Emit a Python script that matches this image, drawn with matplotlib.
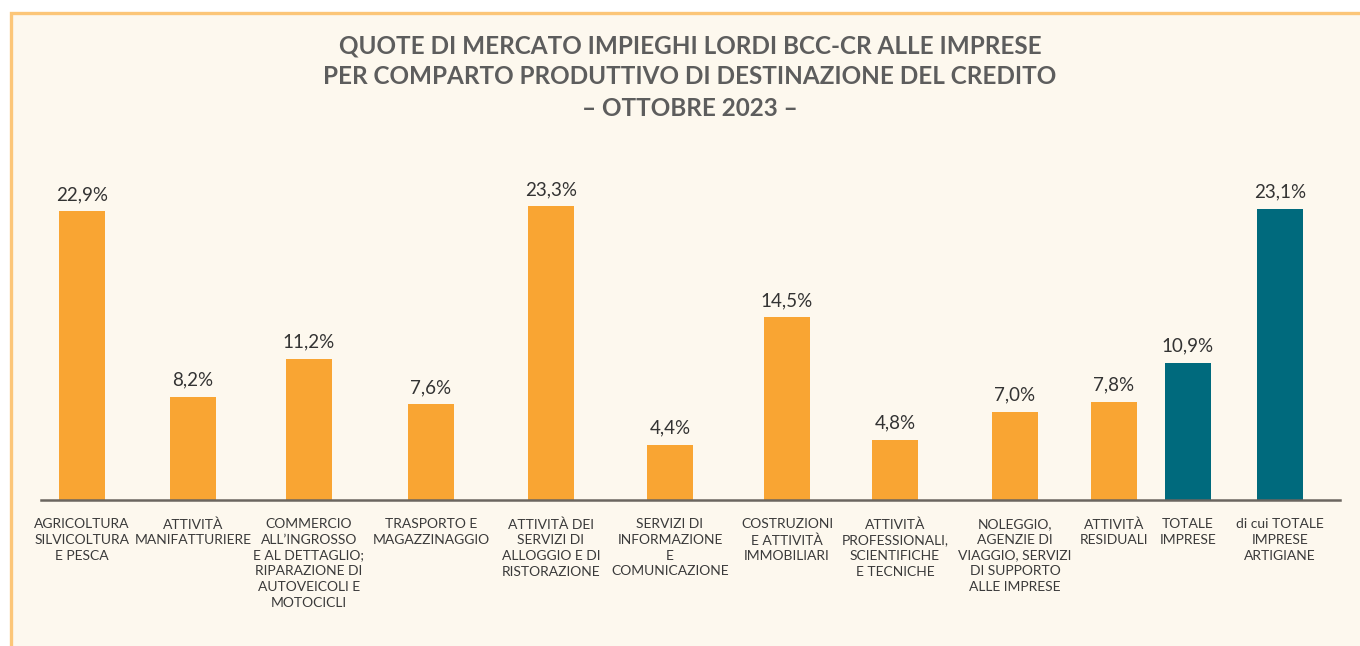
import matplotlib
matplotlib.use("Agg")
import matplotlib.pyplot as plt
from matplotlib.patches import Rectangle
from matplotlib.transforms import blended_transform_factory, offset_copy

plt.rcParams['font.family'] = ['Lato', 'DejaVu Sans']

# ---- data ----
categories = [
    "AGRICOLTURA\nSILVICOLTURA\nE PESCA",
    "ATTIVITÀ\nMANIFATTURIERE",
    "COMMERCIO\nALL’INGROSSO\nE AL DETTAGLIO;\nRIPARAZIONE DI\nAUTOVEICOLI E\nMOTOCICLI",
    "TRASPORTO E\nMAGAZZINAGGIO",
    "ATTIVITÀ DEI\nSERVIZI DI\nALLOGGIO E DI\nRISTORAZIONE",
    "SERVIZI DI\nINFORMAZIONE\nE\nCOMUNICAZIONE",
    "COSTRUZIONI\nE ATTIVITÀ\nIMMOBILIARI",
    "ATTIVITÀ\nPROFESSIONALI,\nSCIENTIFICHE\nE TECNICHE",
    "NOLEGGIO,\nAGENZIE DI\nVIAGGIO, SERVIZI\nDI SUPPORTO\nALLE IMPRESE",
    "ATTIVITÀ\nRESIDUALI",
    "TOTALE\nIMPRESE",
    "di cui TOTALE\nIMPRESE\nARTIGIANE",
]
values = [22.9, 8.2, 11.2, 7.6, 23.3, 4.4, 14.5, 4.8, 7.0, 7.8, 10.9, 23.1]
is_total = [False] * 10 + [True, True]
title_lines = [
    "QUOTE DI MERCATO IMPIEGHI LORDI BCC-CR ALLE IMPRESE",
    "PER COMPARTO PRODUTTIVO DI DESTINAZIONE DEL CREDITO",
    "– OTTOBRE 2023 –",
]

# ---- layout (bar centre positions, pixel-like units) ----
x_pos = [82, 193, 309, 431, 551, 670, 787, 895, 1015, 1114, 1188, 1280]
bar_w = 46

ORANGE = "#F9A533"
TEAL = "#006A7D"
BG = "#FDF8EE"
BORDER = "#FCC678"

W, H = 1360, 646
fig = plt.figure(figsize=(W / 100, H / 100), dpi=100, facecolor="white")

# background panel with top/left border
fig.patches.append(Rectangle((10.5 / W, -0.1), 1.2, 1.1 - 12.5 / H,
                             transform=fig.transFigure, facecolor=BG,
                             edgecolor=BORDER, linewidth=2.4, zorder=-5))

ax_left, ax_right = 41, 1340
base_y = 500
top_y = 150
ax = fig.add_axes([ax_left / W, (H - base_y) / H, (ax_right - ax_left) / W,
                   (base_y - top_y) / H])
ax.set_zorder(2)
ax.set_facecolor("none")
ax.set_xlim(ax_left, ax_right)
ax.set_ylim(0, (base_y - top_y) / 12.6)

colors = [TEAL if t else ORANGE for t in is_total]
bars = ax.bar(x_pos, values, width=bar_w, color=colors, zorder=2)

for xp, v in zip(x_pos, values):
    ax.annotate(f"{v:.1f}%".replace(".", ","), (xp, v), xytext=(0, 6),
                textcoords="offset points", ha="center", va="bottom",
                fontsize=13.5, color="#333333")

for s in ["top", "right", "left"]:
    ax.spines[s].set_visible(False)
ax.spines["bottom"].set_color("#6b6660")
ax.spines["bottom"].set_linewidth(1.8)
ax.set_yticks([])
ax.set_xticks([])

trans = blended_transform_factory(ax.transData, ax.transAxes)
for xp, lab in zip(x_pos, categories):
    ax.text(xp, 0, lab, transform=offset_copy(trans, fig=fig, x=0, y=-13, units="points"),
            ha="center", va="top", fontsize=10, color="#3a3a3a",
            linespacing=1.38, clip_on=False)

for i, line in enumerate(title_lines):
    fig.text(690 / W, 1 - (46 + 31 * i) / H, line, ha="center", va="center",
             fontsize=17.5, fontweight="bold", color="#5d5d5d")

fig.savefig("out.png", dpi=100, facecolor=fig.get_facecolor())
